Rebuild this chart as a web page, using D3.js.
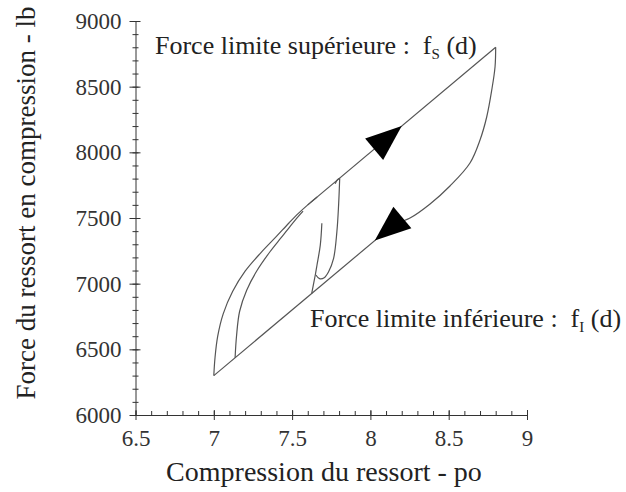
<!DOCTYPE html>
<html>
<head>
<meta charset="utf-8">
<script src="https://cdn.jsdelivr.net/npm/d3@7/dist/d3.min.js"></script>
<style>
  html, body { margin: 0; padding: 0; background: #fff; }
  svg { display: block; }
  text { font-family: "Liberation Serif", "Times New Roman", serif; fill: #222; white-space: pre; }
</style>
</head>
<body>
<svg id="chart" width="626" height="492"></svg>
<script>
// Spring compression d (in) versus spring force f (lb), one array per branch
const upperLimit = [[7.60, 7600], [8.80, 8800]];           // f_s(d), straight part
const lowerLimit = [[8.157, 7457], [7.00, 6300]];          // f_I(d), straight part
const outerLoading = [[7.00, 6300], [7.008, 6440], [7.025, 6600], [7.06, 6770], [7.12, 6940],
                      [7.20, 7095], [7.30, 7235], [7.40, 7360], [7.48, 7462], [7.54, 7535],
                      [7.60, 7600], [7.66, 7660]];
const innerLoading = [[7.136, 6436], [7.145, 6600], [7.165, 6790], [7.21, 6950], [7.275, 7098],
                      [7.36, 7245], [7.43, 7350], [7.49, 7440], [7.54, 7512], [7.57, 7552]];
const unloading = [[8.80, 8800], [8.796, 8652], [8.775, 8475], [8.743, 8271], [8.70, 8094],
                   [8.636, 7919], [8.508, 7744], [8.381, 7607], [8.253, 7500], [8.157, 7457]];
const minorUnloading = [[7.804, 7803], [7.797, 7600], [7.786, 7396], [7.765, 7193], [7.733, 7091],
                        [7.705, 7045], [7.675, 7038], [7.652, 7066]];
const minorReloading = [[7.625, 6925], [7.648, 7066], [7.659, 7142], [7.68, 7294], [7.69, 7460]];
const minorHook = [[7.775, 7760], [7.79, 7792], [7.804, 7803]];

// Arrow heads: apex on the branch and the branch it follows
const arrowUp = { at: [8.20, 8200], along: upperLimit, forward: true };
const arrowDown = { at: [8.028, 7328], along: lowerLimit, forward: false };

// Axes
const xTicks = [6.5, 7, 7.5, 8, 8.5, 9];
const xTickLabels = ["6.5", "7", "7.5", "8", "8.5", "9"];
const yTicks = [6000, 6500, 7000, 7500, 8000, 8500, 9000];
const yTickLabels = ["6000", "6500", "7000", "7500", "8000", "8500", "9000"];
const xTitle = "Compression du ressort - po";
const yTitle = "Force du ressort en compression - lb";

const svg = d3.select("#chart");
const x = d3.scaleLinear().domain([6.5, 9]).range([135.5, 527]);
const y = d3.scaleLinear().domain([6000, 9000]).range([415, 21]);

const axisColor = "#333";
const serif = '"Liberation Serif", "Times New Roman", serif';

// X axis: minor ticks point up, major ticks cross the line
const gx = svg.append("g").attr("transform", `translate(0,${y(6000)})`);
gx.call(d3.axisBottom(x).tickValues(d3.range(65, 91).map(v => v / 10)).tickSize(-4).tickSizeOuter(0).tickFormat(""));
gx.selectAll(".tick line").attr("stroke", axisColor);
gx.select(".domain").attr("stroke", axisColor);
const gxMajor = svg.append("g").attr("transform", `translate(0,${y(6000)})`)
  .call(d3.axisBottom(x).tickValues(xTicks).tickFormat((d, i) => xTickLabels[i]).tickSize(0).tickPadding(15));
gxMajor.attr("font-family", serif).attr("font-size", 23);
gxMajor.select(".domain").remove();
gxMajor.selectAll(".tick line").attr("y1", -5).attr("y2", 5).attr("stroke", axisColor);
gxMajor.selectAll(".tick text").attr("dy", "0.71em").style("fill", "#333");

// Y axis
const gy = svg.append("g").attr("transform", `translate(${x(6.5)},0)`);
gy.call(d3.axisLeft(y).tickValues(d3.range(6000, 9001, 100)).tickSize(0).tickSizeOuter(0).tickFormat(""));
gy.selectAll(".tick line").attr("x1", -3).attr("x2", 3).attr("stroke", axisColor);
gy.select(".domain").attr("stroke", axisColor);
const gyMajor = svg.append("g").attr("transform", `translate(${x(6.5)},0)`)
  .call(d3.axisLeft(y).tickValues(yTicks).tickFormat((d, i) => yTickLabels[i]).tickSize(0).tickPadding(14));
gyMajor.attr("font-family", serif).attr("font-size", 23);
gyMajor.select(".domain").remove();
gyMajor.selectAll(".tick line").attr("x1", -6).attr("x2", 5).attr("stroke", axisColor);
gyMajor.selectAll(".tick text").style("fill", "#333");

// Axis titles
svg.append("text").attr("x", 324).attr("y", 481).attr("text-anchor", "middle")
  .attr("font-size", 28).text(xTitle);
svg.append("text").attr("transform", "translate(35,203) rotate(-90)").attr("text-anchor", "middle")
  .attr("font-size", 27).text(yTitle);

// Branches
const straight = d3.line().x(d => x(d[0])).y(d => y(d[1]));
const smooth = d3.line().x(d => x(d[0])).y(d => y(d[1])).curve(d3.curveCatmullRom.alpha(0.5));
const plot = svg.append("g").attr("fill", "none").attr("stroke", "#555").attr("stroke-width", 1.2);
plot.append("path").attr("d", straight(upperLimit));
plot.append("path").attr("d", straight(lowerLimit));
[outerLoading, innerLoading, unloading, minorUnloading, minorReloading, minorHook]
  .forEach(b => plot.append("path").attr("d", smooth(b)));

// Direction arrows
function arrowHead(a) {
  const p0 = a.along[0], p1 = a.along[a.along.length - 1];
  let dx = x(p1[0]) - x(p0[0]), dy = y(p1[1]) - y(p0[1]);
  const len = Math.hypot(dx, dy);
  dx /= len; dy /= len;
  const sign = (a.forward === (p1[0] > p0[0])) ? 1 : -1;
  dx *= sign; dy *= sign;
  const ax = x(a.at[0]), ay = y(a.at[1]);
  const L = 36, W = 14;
  const bx = ax - dx * L, by = ay - dy * L;
  return [[ax, ay], [bx - dy * W, by + dx * W], [bx + dy * W, by - dx * W]];
}
[arrowUp, arrowDown].forEach(a => {
  svg.append("path").attr("d", d3.line()(arrowHead(a)) + "Z").attr("fill", "#000");
});

// Limit labels
const upperLabel = svg.append("text").attr("x", 155).attr("y", 54).attr("font-size", 26);
upperLabel.append("tspan").text("Force limite supérieure :  f");
upperLabel.append("tspan").attr("font-size", 15).attr("dy", 5).text("S");
upperLabel.append("tspan").attr("dy", -5).text(" (d)");
const lowerLabel = svg.append("text").attr("x", 310).attr("y", 327).attr("font-size", 26);
lowerLabel.append("tspan").text("Force limite inférieure :  f");
lowerLabel.append("tspan").attr("font-size", 15).attr("dy", 5).text("I");
lowerLabel.append("tspan").attr("dy", -5).text(" (d)");
</script>
</body>
</html>
